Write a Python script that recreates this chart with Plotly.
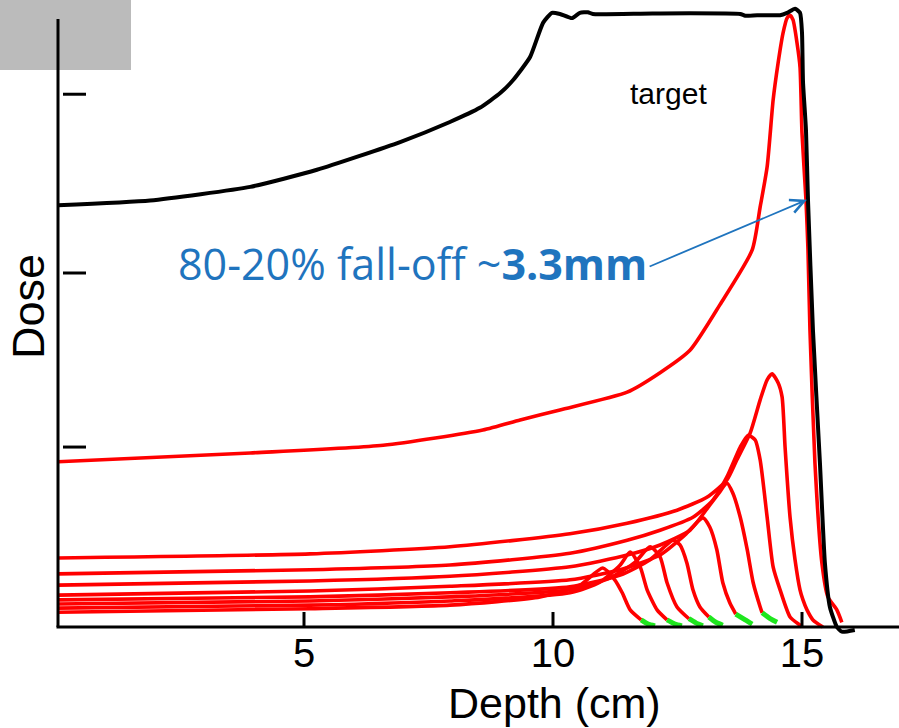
import plotly.graph_objects as go

# ---------------- data (depth in cm, dose in relative units) ----------------
sobp_depth = [0.06, 1.91, 3.92, 5.26, 6.93, 7.93, 8.53, 8.94, 9.20, 9.54, 9.80, 9.98, 10.14, 10.38,
              10.54, 10.70, 10.80, 12.00, 13.76, 13.86, 14.10, 14.56, 14.70, 14.86, 14.96, 15.00,
              15.02, 15.08, 15.12, 15.22, 15.36, 15.46, 15.56, 15.70, 15.80, 16.06]
sobp_dose = [71.5, 72.3, 74.6, 77.5, 82.2, 85.6, 88.0, 90.5, 92.7, 96.6, 102.4, 104.1, 103.9, 103.2,
             104.1, 104.2, 103.9, 104.0, 103.9, 103.6, 103.7, 103.7, 104.1, 104.8, 104.1, 100.7,
             92.4, 84.2, 72.4, 50.3, 27.8, 10.8, 3.4, 0.0, -0.8, -0.5]

r1_depth = [0.06, 3.92, 6.59, 8.59, 9.34, 10.14, 11.49, 12.15, 12.75, 13.35, 14.00, 14.16, 14.30,
            14.42, 14.52, 14.62, 14.70, 14.76, 14.82, 14.90, 14.96, 15.00, 15.08, 15.12, 15.16,
            15.26, 15.40, 15.52, 15.70, 15.80]
r1_dose = [28.0, 29.5, 30.8, 33.4, 35.1, 36.8, 39.8, 43.1, 46.9, 54.6, 63.9, 71.2, 78.0,
           89.3, 95.6, 100.7, 103.2, 103.7, 102.9, 99.0, 94.9, 83.7, 72.4, 63.9, 50.3,
           27.8, 10.8, 5.1, 2.9, 0.8]

r2_depth = [0.06, 5.12, 7.93, 10.34, 11.49, 12.49, 13.09, 13.49, 13.69, 13.96, 14.16, 14.30, 14.40,
            14.52, 14.60, 14.66, 14.76, 14.86, 14.96, 15.02, 15.10, 15.22, 15.42]
r2_dose = [11.7, 12.4, 13.6, 15.8, 17.6, 19.8, 22.0, 24.9, 28.3, 32.9, 38.5, 41.9, 42.9,
           41.4, 39.0, 30.5, 18.6, 11.4, 6.3, 4.6, 2.9, 1.2, 0.0]

r3_depth = [0.06, 5.12, 7.93, 10.34, 11.49, 12.15, 12.81, 13.21, 13.49, 13.76, 13.92, 14.06, 14.16,
            14.30, 14.42, 14.56, 14.76, 14.96, 15.00]
r3_dose = [9.0, 9.7, 10.5, 12.5, 14.7, 16.4, 18.6, 21.5, 25.4, 30.5, 32.5, 31.7, 28.3,
           18.6, 10.2, 6.3, 1.7, 0.3, 0.0]

r4_depth = [0.06, 5.12, 7.93, 10.34, 11.49, 12.15, 12.75, 13.15, 13.35, 13.49, 13.61, 13.76, 13.90,
            14.02, 14.16, 14.20]
r4_dose = [7.1, 7.8, 8.6, 10.2, 12.2, 13.9, 16.4, 20.7, 22.9, 24.4, 22.7, 18.6, 13.1,
           7.5, 3.4, 2.4]

r5_depth = [0.06, 5.12, 7.93, 10.34, 11.35, 12.15, 12.65, 13.01, 13.15, 13.29, 13.41, 13.55, 13.67]
r5_dose = [5.4, 6.1, 6.9, 8.0, 9.7, 12.2, 15.6, 18.5, 16.9, 13.1, 7.5, 4.1, 2.2]

r6_depth = [0.06, 5.12, 7.93, 10.34, 11.35, 11.95, 12.41, 12.55, 12.69, 12.81, 12.95, 13.13]
r6_dose = [4.6, 5.1, 5.8, 6.8, 8.8, 11.4, 14.7, 13.9, 10.8, 6.3, 3.4, 1.7]

r7_depth = [0.06, 5.12, 7.93, 10.34, 11.14, 11.65, 11.95, 12.15, 12.29, 12.49, 12.73]
r7_dose = [3.9, 4.4, 5.1, 6.3, 8.3, 11.0, 13.6, 11.9, 7.5, 3.4, 1.4]

r8_depth = [0.06, 5.12, 7.93, 10.34, 10.94, 11.35, 11.55, 11.75, 11.89, 12.09, 12.29]
r8_dose = [3.2, 3.7, 4.4, 5.8, 7.6, 10.5, 12.7, 10.2, 6.3, 2.9, 1.2]

r9_depth = [0.06, 5.12, 7.93, 9.74, 10.54, 11.00, 11.24, 11.39, 11.55, 11.77]
r9_dose = [2.5, 3.1, 3.7, 5.1, 7.1, 10.0, 8.0, 5.8, 2.9, 1.2]

# green distal tails (end of falloff) of the shallow peaks
tail4_depth, tail4_dose = [14.20, 14.36, 14.50], [2.4, 1.4, 0.8]
tail5_depth, tail5_dose = [13.67, 13.86, 14.00], [2.2, 1.2, 0.5]
tail6_depth, tail6_dose = [13.13, 13.27, 13.41], [1.7, 0.8, 0.3]
tail7_depth, tail7_dose = [12.73, 12.87, 13.01], [1.4, 0.7, 0.2]
tail8_depth, tail8_dose = [12.29, 12.45, 12.59], [1.2, 0.5, 0.2]
tail9_depth, tail9_dose = [11.77, 11.91, 12.05], [1.2, 0.5, 0.2]

xtick_vals = [5, 10, 15]
xtick_text = ["5", "10", "15"]
ytick_marks = [30.5, 60.0, 90.3]

# ---------------- figure ----------------
fig = go.Figure()

RED = "#FF0000"
GREEN = "#1EE61E"

red_curves = [(r1_depth, r1_dose), (r2_depth, r2_dose), (r3_depth, r3_dose), (r4_depth, r4_dose),
              (r5_depth, r5_dose), (r6_depth, r6_dose), (r7_depth, r7_dose), (r8_depth, r8_dose),
              (r9_depth, r9_dose)]
for xs, ys in red_curves:
    fig.add_trace(go.Scatter(x=xs, y=ys, mode="lines",
                             line=dict(color=RED, width=3.6, shape="spline", smoothing=0.6),
                             hoverinfo="skip", showlegend=False))

tails = [(tail4_depth, tail4_dose), (tail5_depth, tail5_dose), (tail6_depth, tail6_dose),
         (tail7_depth, tail7_dose), (tail8_depth, tail8_dose), (tail9_depth, tail9_dose)]
for xs, ys in tails:
    fig.add_trace(go.Scatter(x=xs, y=ys, mode="lines",
                             line=dict(color=GREEN, width=5, shape="spline", smoothing=0.6),
                             hoverinfo="skip", showlegend=False))

fig.add_trace(go.Scatter(x=sobp_depth, y=sobp_dose, mode="lines",
                         line=dict(color="black", width=4, shape="spline", smoothing=0.5),
                         hoverinfo="skip", showlegend=False))

W, H = 899, 728
ML, MB = 58, 91
PW, PH = W - ML, H - MB
PXCM = 49.8          # pixels per cm
X0PX = 55            # pixel of depth 0
PXD = 5.9            # pixels per dose unit
AXPX = 627           # pixel row of dose 0

x_range = [(ML - X0PX) / PXCM, (W - X0PX) / PXCM]
y_range = [(AXPX - PH) / PXD, AXPX / PXD]


def py2paper(py):
    return (PH - py) / PH


def px2paper(px):
    return (px - ML) / PW


shapes = []
# grey box in the upper-left corner
shapes.append(dict(type="rect", xref="paper", yref="paper", x0=px2paper(0), x1=px2paper(131),
                   y0=py2paper(70), y1=1.0, fillcolor="#BBBBBB", line=dict(width=0), layer="below"))
# axes lines
shapes.append(dict(type="line", xref="paper", yref="paper", x0=px2paper(58), x1=px2paper(58),
                   y0=py2paper(627), y1=py2paper(19), line=dict(color="black", width=3)))
shapes.append(dict(type="line", xref="paper", yref="paper", x0=px2paper(56.5), x1=1.0,
                   y0=py2paper(627), y1=py2paper(627), line=dict(color="black", width=3)))
# x tick marks (inside)
for v in xtick_vals:
    shapes.append(dict(type="line", xref="x", yref="y", x0=v, x1=v, y0=0, y1=15 / PXD,
                       line=dict(color="black", width=3)))
# y tick marks (detached dashes)
for v in ytick_marks:
    shapes.append(dict(type="line", xref="x", yref="y", x0=(63 - X0PX) / PXCM, x1=(86 - X0PX) / PXCM,
                       y0=v, y1=v, line=dict(color="black", width=3)))

annotations = [
    dict(text="Depth (cm)", xref="paper", yref="paper", x=px2paper(554), y=py2paper(703),
         xanchor="center", yanchor="middle", showarrow=False,
         font=dict(family="Liberation Sans, Arial", size=43, color="black")),
    dict(text="Dose", xref="paper", yref="paper", x=px2paper(28), y=py2paper(307),
         xanchor="center", yanchor="middle", showarrow=False, textangle=-90,
         font=dict(family="Liberation Sans, Arial", size=45, color="black")),
    dict(text="target", xref="x", yref="y", x=12.31, y=90.5, xanchor="center", yanchor="middle",
         showarrow=False, font=dict(family="Liberation Sans, Arial", size=30, color="black")),
    dict(text="80-20% fall-off ~<b>3.3mm</b>", xref="x", yref="y", x=7.17, y=61.6,
         xanchor="center", yanchor="middle", showarrow=False,
         font=dict(family="Open Sans", size=43, color="#1F74BE")),
    dict(text="", xref="x", yref="y", x=15.10, y=72.4, axref="x", ayref="y", ax=11.91, ay=61.0,
         showarrow=True, arrowhead=5, arrowsize=1.5, arrowwidth=1.8, arrowcolor="#1F74BE",
         standoff=0, startstandoff=0),
]

fig.update_layout(
    width=W, height=H,
    margin=dict(l=ML, r=0, t=0, b=MB, pad=0),
    paper_bgcolor="white", plot_bgcolor="white",
    showlegend=False,
    xaxis=dict(range=x_range, showgrid=False, zeroline=False, showline=False, ticks="",
               tickmode="array", tickvals=xtick_vals, ticktext=xtick_text, ticklabelstandoff=-11,
               tickfont=dict(family="Liberation Sans, Arial", size=40, color="black"), fixedrange=True),
    yaxis=dict(range=y_range, showgrid=False, zeroline=False, showline=False, ticks="",
               showticklabels=False, fixedrange=True),
    shapes=shapes,
    annotations=annotations,
)

fig.write_html("out.html", config={"displayModeBar": False},
               post_script="document.body.style.margin='0px';")
